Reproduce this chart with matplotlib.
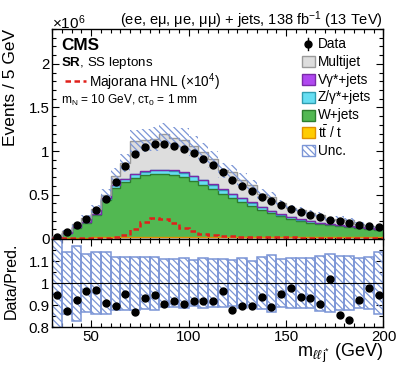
import numpy as np
import matplotlib
matplotlib.use("Agg")
import matplotlib.pyplot as plt
from matplotlib.patches import Rectangle
from matplotlib.lines import Line2D
from matplotlib.ticker import MultipleLocator, FixedLocator

plt.rcParams['font.family'] = ['Liberation Sans', 'DejaVu Sans']
plt.rcParams['mathtext.fontset'] = 'custom'
plt.rcParams['mathtext.rm'] = 'Liberation Sans'
plt.rcParams['mathtext.it'] = 'Liberation Sans:italic'
plt.rcParams['mathtext.bf'] = 'Liberation Sans:bold'
plt.rcParams['hatch.linewidth'] = 0.9

# ---------------- data (events in units of 1e6) ----------------
mass_edges = list(range(30, 205, 5))
data_vals = [0.018, 0.069, 0.149, 0.225, 0.324, 0.454, 0.645, 0.824, 0.966, 1.046,
             1.077, 1.084, 1.057, 1.023, 0.973, 0.906, 0.834, 0.754, 0.668, 0.601,
             0.542, 0.477, 0.423, 0.380, 0.336, 0.300, 0.267, 0.238, 0.210, 0.192,
             0.175, 0.154, 0.137, 0.123]
ttbar = [0.001, 0.002, 0.004, 0.006, 0.008, 0.010, 0.012, 0.014, 0.016, 0.017,
         0.018, 0.018, 0.018, 0.018, 0.018, 0.017, 0.017, 0.016, 0.016, 0.015,
         0.015, 0.014, 0.014, 0.013, 0.013, 0.012, 0.012, 0.011, 0.011, 0.010,
         0.010, 0.009, 0.009, 0.008]
wjets = [0.011, 0.053, 0.114, 0.172, 0.254, 0.430, 0.568, 0.636, 0.679, 0.703,
         0.717, 0.717, 0.707, 0.682, 0.640, 0.593, 0.543, 0.489, 0.444, 0.400,
         0.355, 0.311, 0.269, 0.237, 0.209, 0.186, 0.167, 0.153, 0.138, 0.127,
         0.116, 0.108, 0.098, 0.089]
zjets = [0.001, 0.003, 0.005, 0.007, 0.010, 0.015, 0.025, 0.030, 0.037, 0.043,
         0.045, 0.046, 0.047, 0.050, 0.052, 0.055, 0.055, 0.052, 0.048, 0.042,
         0.036, 0.030, 0.025, 0.021, 0.018, 0.015, 0.013, 0.011, 0.010, 0.009,
         0.008, 0.007, 0.006, 0.005]
vgamma = [0.000, 0.001, 0.001, 0.002, 0.002, 0.003, 0.004, 0.004, 0.005, 0.005,
          0.005, 0.005, 0.005, 0.005, 0.005, 0.005, 0.005, 0.004, 0.004, 0.004,
          0.004, 0.003, 0.003, 0.003, 0.003, 0.003, 0.002, 0.002, 0.002, 0.002,
          0.002, 0.002, 0.002, 0.002]
multijet = [0.006, 0.020, 0.037, 0.046, 0.061, 0.041, 0.110, 0.183, 0.373, 0.354,
            0.352, 0.409, 0.371, 0.375, 0.343, 0.314, 0.287, 0.220, 0.248, 0.211,
            0.196, 0.151, 0.163, 0.125, 0.101, 0.104, 0.092, 0.086, 0.045, 0.077,
            0.074, 0.041, 0.025, 0.026]
hnl_x1e4 = [0.003, 0.004, 0.005, 0.005, 0.006, 0.007, 0.012, 0.038, 0.103, 0.190,
            0.229, 0.221, 0.172, 0.115, 0.080, 0.052, 0.036, 0.027, 0.020, 0.016,
            0.013, 0.011, 0.010, 0.009, 0.008, 0.007, 0.007, 0.006, 0.006, 0.005,
            0.005, 0.005, 0.004, 0.004]
rel_unc = [0.25, 0.14, 0.17, 0.13, 0.14, 0.14, 0.12, 0.12, 0.12, 0.117,
           0.12, 0.11, 0.11, 0.115, 0.105, 0.112, 0.109, 0.109, 0.106, 0.115,
           0.101, 0.117, 0.129, 0.109, 0.114, 0.115, 0.115, 0.125, 0.133, 0.121,
           0.121, 0.114, 0.117, 0.139]

edges = np.array(mass_edges, dtype=float)
centers = 0.5 * (edges[1:] + edges[:-1])
widths = np.diff(edges)
data = np.array(data_vals)
comps = [
    (np.array(ttbar), '#ffcc00', '#e09000', r'$\mathrm{t\bar{t}}$ / t'),
    (np.array(wjets), '#52b852', '#2e7d2e', 'W+jets'),
    (np.array(zjets), '#66def2', '#2f9db0', 'Z/γ*+jets'),
    (np.array(vgamma), '#b048f0', '#7a2aa8', 'Vγ*+jets'),
    (np.array(multijet), '#dddddd', '#9a9a9a', 'Multijet'),
]
total = sum(c[0] for c in comps)
unc = np.array(rel_unc)
hatch_col = '#7b95d6'
hatch = '\\\\\\\\\\'

W, H = 399, 368
fig = plt.figure(figsize=(W / 100, H / 100), dpi=100)
ax = fig.add_axes([0.131, 0.3505, 0.830, 0.5705])
rax = fig.add_axes([0.131, 0.111, 0.830, 0.2395], sharex=ax)

# stack
base = np.zeros_like(total)
for vals, fc, ec, lab in comps:
    top = base + vals
    ax.stairs(top, edges, baseline=base, fill=True, color=fc, lw=0, zorder=2)
    ax.stairs(top, edges, baseline=None, color=ec, lw=1.0, zorder=3)
    base = top

# uncertainty band
ax.bar(centers, 2 * unc * total, bottom=total * (1 - unc), width=widths,
       facecolor='none', edgecolor=hatch_col, hatch=hatch, lw=0, zorder=4)

# signal
ax.stairs(np.array(hnl_x1e4), edges, baseline=None, color='#e0201b', lw=1.8,
          ls=(0, (2.2, 1.4)), zorder=5)

# data
ax.errorbar(centers, data, yerr=np.zeros_like(data), fmt='o', color='k',
            ms=5, lw=1.0, zorder=6)

ax.set_xlim(30, 200)
ax.set_ylim(-0.01, 2.4)
ax.yaxis.set_major_locator(FixedLocator([0, 0.5, 1, 1.5, 2]))
ax.yaxis.set_minor_locator(MultipleLocator(0.1))
ax.set_yticklabels(['0', '0.5', '1', '1.5', '2'])
ax.xaxis.set_major_locator(MultipleLocator(50))
ax.xaxis.set_minor_locator(MultipleLocator(5))
plt.setp(ax.get_xticklabels(), visible=False)

# ratio
ratio = data / total
rax.bar(centers, 2 * unc, bottom=1 - unc, width=widths, facecolor='none',
        edgecolor=hatch_col, hatch=hatch, lw=1.1, zorder=2)
rax.axhline(1.0, color='k', lw=0.8, zorder=3)
rax.errorbar(centers, ratio, yerr=np.zeros_like(ratio), fmt='o', color='k',
             ms=5, lw=1.0, zorder=4)
rax.set_ylim(0.8, 1.2)
rax.yaxis.set_major_locator(FixedLocator([0.8, 0.9, 1.0, 1.1]))
rax.set_yticklabels(['0.8', '0.9', '1', '1.1'])
rax.yaxis.set_minor_locator(MultipleLocator(0.05))
rax.set_xlim(30, 200)

for a in (ax, rax):
    a.tick_params(which='both', direction='in', top=True, right=True,
                  labelsize=10.8, width=0.8)
    a.tick_params(which='major', length=5, pad=2)
    a.tick_params(which='minor', length=2.8)
    for s in a.spines.values():
        s.set_linewidth(1.0)

# manual legend (figure pixel coordinates)
def fx(px):
    return px / W

def fy(py):
    return 1 - py / H

leg_rows = [('Data', None, None, False)]
for vals, fc, ec, lab in reversed(comps):
    leg_rows.append((lab, fc, ec, False))
leg_rows.append(('Unc.', 'white', hatch_col, True))
row_y0, row_dy = 44, 17.8
for i, (lab, fc, ec, hatched) in enumerate(leg_rows):
    yc = row_y0 + i * row_dy
    if fc is None:
        fig.add_artist(Line2D([fx(308), fx(308)], [fy(yc - 6), fy(yc + 6)],
                              transform=fig.transFigure, color='k', lw=1.0))
        fig.add_artist(Line2D([fx(308)], [fy(yc)], transform=fig.transFigure,
                              marker='o', ms=5, color='k', lw=0))
    else:
        fig.add_artist(Rectangle((fx(302), fy(yc + 5.5)), fx(13), 11 / H,
                                 transform=fig.transFigure, facecolor=fc,
                                 edgecolor=ec, lw=1.0,
                                 hatch=hatch if hatched else None))
    fig.text(fx(318), fy(yc), lab, ha='left', va='center', fontsize=9.8)

# texts
fig.text(fx(383), fy(20), r'(ee, eμ, μe, μμ) + jets, 138 fb$^{-1}$ (13 TeV)',
         ha='right', va='center', fontsize=10.5)
fig.text(fx(52), fy(23), r'$\times10^{6}$', ha='left', va='center', fontsize=11)
fig.text(fx(61), fy(45), 'CMS', ha='left', va='center', fontsize=12.3,
         fontweight='bold')
fig.text(fx(61), fy(63), r'$\mathbf{SR}$, SS leptons', ha='left', va='center',
         fontsize=9.6)
fig.add_artist(Line2D([fx(65), fx(86)], [fy(81), fy(81)],
                      transform=fig.transFigure, color='#e0201b', lw=1.8,
                      ls=(0, (2.2, 1.4))))
fig.text(fx(89), fy(82), r'Majorana HNL ($\times10^{4}$)', ha='left',
         va='center', fontsize=9.8)
fig.text(fx(61), fy(100), r'm$_{\mathrm{N}}$ = 10 GeV, cτ$_{0}$ = 1 mm',
         ha='left', va='center', fontsize=8.6)

fig.text(fx(11), fy(29), 'Events / 5 GeV', rotation=90, ha='center', va='top',
         fontsize=12.5)
fig.text(fx(11), fy(281), 'Data/Pred.', rotation=90, ha='center', va='center',
         fontsize=11.5)
fig.text(fx(383), fy(353), r'm$_{ℓℓ\,\mathrm{j}^{*}}$ (GeV)', ha='right',
         va='center', fontsize=13)

fig.savefig('out.png', dpi=100)
